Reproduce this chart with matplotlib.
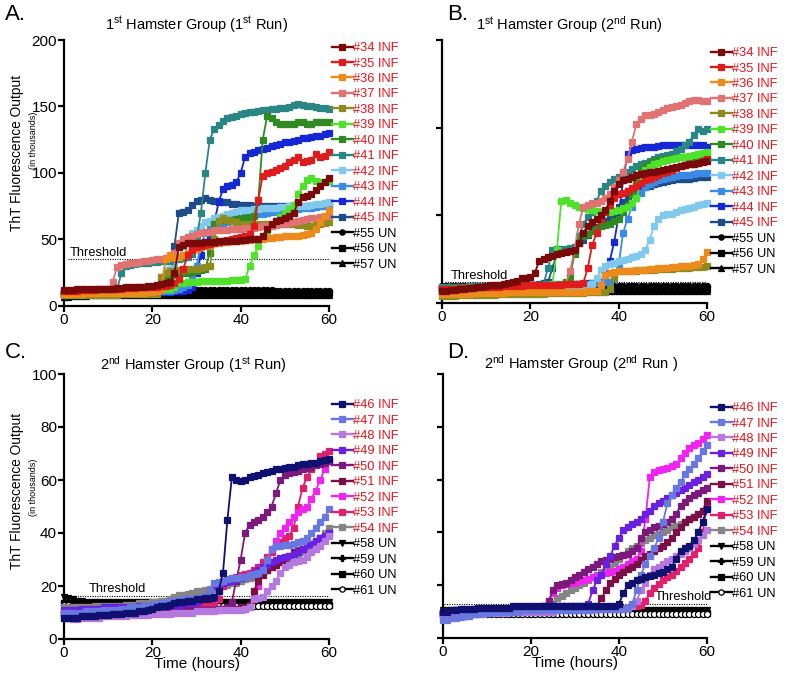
import numpy as np
import matplotlib
matplotlib.use('Agg')
import matplotlib.pyplot as plt
from matplotlib.lines import Line2D

plt.rcParams['font.family'] = ['Liberation Sans', 'DejaVu Sans']
plt.rcParams['mathtext.fontset'] = 'custom'
plt.rcParams['mathtext.rm'] = 'Liberation Sans'
plt.rcParams['mathtext.it'] = 'Liberation Sans:italic'
plt.rcParams['mathtext.bf'] = 'Liberation Sans:bold'

hours = np.arange(0, 61)

# ---------------- Panel A : 1st group, 1st run ----------------
A34 = [12, 12, 12, 12.5, 12.5, 12.5, 12.5, 13, 13, 13,
       13, 13, 13.5, 13.5, 14, 14, 14, 14.5, 14.5, 15,
       15, 16, 16.5, 17, 18, 25, 44, 46, 47, 47,
       47.5, 47.5, 48, 48, 48, 48.5, 48.5, 49, 49, 49,
       49.5, 49.5, 50, 50, 50, 53, 58, 62, 64, 65,
       66, 68, 70, 78, 82, 83, 84, 87, 90, 93, 96]
A35 = [11, 11, 11.5, 11.5, 12, 12, 12, 12, 12.5, 12.5,
       12.5, 13, 13, 13, 13.5, 13.5, 13.5, 14, 14, 14,
       14.5, 14.5, 15, 15, 15.5, 17, 20, 28, 38, 42,
       44, 45, 46, 46.5, 47, 48, 49, 49.5, 50, 51,
       52, 53, 54, 60, 80, 98, 100, 101, 102, 104,
       105, 108, 110, 112, 108, 109, 110, 114, 112, 113, 116]
A36 = [9, 9, 9, 9, 9, 9.5, 9.5, 9.5, 9.5, 9.5,
       9.5, 9.5, 10, 10, 10, 10, 10, 10, 10, 10.5,
       10.5, 11, 12, 35, 38, 36, 37, 38, 40, 42,
       43, 44, 45, 46, 47, 47.5, 48, 48, 48.5, 49,
       49, 49.5, 49.5, 50, 50, 50.5, 51, 51.5, 52, 52,
       52.5, 52.5, 53, 53, 53.5, 54, 55, 58, 63, 68, 72]
A37 = [10, 10, 10.5, 10.5, 11, 11, 11, 11.5, 11.5, 12,
       12, 18, 29, 31, 31.5, 32, 32.5, 33, 33.5, 34,
       34.5, 35, 35.5, 36, 37, 40, 47, 50, 52, 53,
       54, 55, 55.5, 56, 57, 57, 57.5, 57.5, 58, 58,
       58, 58.5, 59, 59, 59.5, 60, 60, 60.5, 61, 61.5,
       62, 62.5, 63, 64, 65, 65.5, 66, 66.5, 67, 67.5, 68]
A38 = [8, 8, 8, 8, 8, 8, 8.5, 8.5, 8.5, 8.5,
       8.5, 8.5, 8.5, 9, 9, 9, 9, 9, 9, 9,
       9, 9, 22, 25, 26, 26, 27, 27, 28, 28,
       28, 28.5, 29, 30, 50, 64, 66, 65, 64, 63,
       62, 62, 62, 62, 62, 61.5, 61.5, 61, 61, 61.5,
       62, 62, 62, 61, 61, 60.5, 60, 61, 62, 62.5, 63]
A39 = [10, 10, 10, 10, 10.5, 10.5, 10.5, 10.5, 11, 11,
       11, 11, 11, 11, 11.5, 11.5, 11.5, 11.5, 12, 12,
       12, 12, 12.5, 12.5, 13, 14, 17, 17.5, 18, 18,
       18, 18.5, 18.5, 18.5, 19, 19, 19, 19, 19.5, 19.5,
       19.5, 20, 30, 38, 45, 50, 56, 60, 64, 67,
       70, 73, 76, 84, 90, 95, 96, 94, 93, 93, 94]
A40 = [9, 9, 9, 9, 9, 9.5, 9.5, 9.5, 9.5, 9.5,
       10, 10, 10, 10, 10, 10.5, 10.5, 10.5, 10.5, 11,
       11, 11, 14, 20, 22, 23, 24, 24.5, 25, 25.5,
       26, 27, 28, 40, 62, 64, 65, 65, 65, 65.5,
       66, 66.5, 67, 68, 80, 125, 143, 141, 138, 137,
       137, 137, 137, 138, 138, 137, 137, 138, 138, 138, 138]
A41 = [10, 10, 10, 10.5, 10.5, 10.5, 11, 11, 11, 11,
       11.5, 11.5, 12, 25, 30, 31, 31.5, 32, 32, 32.5,
       33, 33, 33.5, 34, 34, 35, 35, 36, 37, 39,
       50, 70, 100, 125, 133, 136, 139, 141, 142, 143,
       144, 145, 145.5, 146, 146.5, 147, 147.5, 148, 148, 148.5,
       149, 149.5, 151, 152, 151, 150, 150, 149.5, 149, 149, 148]
A42 = [10, 10, 10, 10, 10, 10, 10, 10.5, 10.5, 10.5,
       10.5, 10.5, 10.5, 10.5, 11, 11, 11, 11, 11, 11,
       11, 11, 22, 27, 28, 29, 35, 45, 52, 55,
       57, 60, 63, 64, 66, 67, 68, 69, 70, 71,
       72, 72, 72.5, 73, 73, 73.5, 73.5, 74, 74, 74.5,
       74.5, 75, 75, 75, 75.5, 75.5, 76, 76.5, 77, 77.5, 78]
A43 = [9, 9, 9, 9, 9, 9, 9.5, 9.5, 9.5, 9.5,
       9.5, 9.5, 10, 10, 10, 10, 10, 10, 10.5, 10.5,
       10.5, 10.5, 11, 11, 11.5, 12, 13, 14, 16, 20,
       30, 45, 55, 58, 60, 61, 62, 63, 64, 65,
       66, 67, 68, 68.5, 69, 69.5, 70, 70.5, 71, 71.5,
       72, 72.5, 73, 73, 73.5, 74, 74, 74.5, 75, 75, 75.5]
A44 = [9, 9, 9, 9, 9, 9, 9, 9, 9.5, 9.5,
       9.5, 9.5, 9.5, 9.5, 9.5, 10, 10, 10, 10, 10,
       10, 10, 10.5, 10.5, 10.5, 11, 11, 11.5, 12, 14,
       25, 38, 48, 52, 62, 78, 88, 90, 91, 93,
       100, 112, 115, 116, 117, 118, 119, 120, 121, 122,
       123, 123.5, 124, 125, 126, 126.5, 127, 127.5, 128, 129, 130]
A45 = [10, 10, 10, 10, 10, 10, 10, 10, 10, 10,
       10, 10, 10.5, 10.5, 10.5, 10.5, 11, 11, 11, 11,
       11, 11.5, 12, 13, 14, 45, 70, 71, 72, 76,
       79, 80, 81, 80, 79, 79, 78, 78, 77, 77,
       76, 76, 76, 75.5, 75, 75, 75, 75, 75, 75,
       75, 75, 75, 75, 75, 75, 75, 75.5, 75.5, 76, 76]
A55 = [10, 10.5, 10.5, 11, 11, 11, 11, 11.5, 11.5, 11.5,
       11.5, 11.5, 11.5, 12, 12, 12, 12, 12, 12, 12,
       12, 12, 12, 12, 12, 12, 12, 12, 12, 12,
       12, 12, 12, 12, 12, 12, 12, 12, 12, 12,
       12, 12, 12, 12, 12, 12, 12, 12, 11.5, 11.5,
       11.5, 11.5, 11.5, 11.5, 11.5, 11.5, 11.5, 11.5, 11.5, 11.5, 11.5]
A56 = [8.5, 8.5, 9, 9, 9, 9.5, 9.5, 9.5, 9.5, 9.5,
       10, 10, 10, 10, 10, 10, 10, 10, 10, 10,
       10, 10, 10, 10, 10, 10, 10, 10, 10, 10,
       10, 10, 10, 10, 10, 10, 10, 10, 10, 10,
       10, 10, 10, 10, 10, 10, 10, 10, 10, 10,
       9.5, 9.5, 9.5, 9.5, 9.5, 9.5, 9.5, 9.5, 9.5, 9.5, 9.5]
A57 = [7, 7, 7.5, 7.5, 7.5, 7.5, 8, 8, 8, 8,
       8, 8, 8, 8, 8.5, 8.5, 8.5, 8.5, 8.5, 8.5,
       8.5, 8.5, 8.5, 8.5, 8.5, 8.5, 8.5, 8.5, 8.5, 8.5,
       8.5, 8.5, 8.5, 8.5, 8.5, 8.5, 8.5, 8.5, 8.5, 8.5,
       8.5, 8.5, 8.5, 8.5, 8.5, 8.5, 8.5, 8.5, 8, 8,
       8, 8, 8, 8, 8, 8, 8, 8, 8, 8, 8]

# ---------------- Panel B : 1st group, 2nd run ----------------
B34 = [7, 7, 7.5, 7.5, 8, 8, 8.5, 8.5, 9, 9,
       9.5, 10, 10, 10.5, 11, 11.5, 12, 12.5, 14, 14.5,
       15, 17, 24, 25, 26, 27, 28, 28.5, 29, 29.5,
       30, 34, 40, 44, 46, 48, 50, 53, 58, 64,
       68, 70, 71, 72, 73, 73.5, 74, 74.5, 75, 75.5,
       76, 76.5, 77, 77.5, 78, 78.5, 79, 79.5, 80, 80.5, 81]
B35 = [8, 8, 8, 8, 8.5, 8.5, 8.5, 8.5, 9, 9,
       9, 9, 9, 9, 9.5, 9.5, 9.5, 9.5, 9.5, 10,
       10, 10, 10, 10, 10.5, 10.5, 10.5, 10.5, 11, 11,
       11, 11, 11.5, 20, 33, 40, 48, 52, 56, 60,
       62, 63, 64, 65.5, 67, 68.5, 70, 71, 72, 73,
       74, 75, 76, 77, 78, 78.5, 79, 79.5, 80, 81, 82]
B36 = [5, 5, 5, 5, 5, 5, 5, 5.5, 5.5, 5.5,
       5.5, 5.5, 5.5, 5.5, 5.5, 6, 6, 6, 6, 6,
       6, 6, 6, 6, 6, 6.5, 6.5, 6.5, 6.5, 6.5,
       6.5, 6.5, 6.5, 7, 7, 7, 10, 16, 17, 17.5,
       18, 18, 18.5, 18.5, 19, 19, 19, 19.5, 19.5, 20,
       20, 20, 20.5, 20.5, 21, 21, 21, 21.5, 22, 25, 29]
B37 = [8, 8, 8, 8, 8, 8.5, 8.5, 8.5, 8.5, 8.5,
       8.5, 8.5, 9, 9, 9, 9, 9, 9, 9, 9.5,
       9.5, 9.5, 9.5, 9.5, 10, 10, 10, 10.5, 11, 18,
       30, 45, 55, 56, 57, 57, 58, 60, 62, 66,
       70, 75, 82, 92, 102, 105, 107, 107.5, 108, 109,
       110, 111, 112, 112.5, 113, 114, 115, 115.5, 116, 115, 115]
B38 = [4, 4, 4, 4, 4.5, 4.5, 4.5, 4.5, 4.5, 4.5,
       4.5, 4.5, 4.5, 5, 5, 5, 5, 5, 5, 5,
       5, 5, 5, 5, 5.5, 5.5, 5.5, 5.5, 5.5, 5.5,
       5.5, 5.5, 5.5, 6, 6, 6, 6, 6, 8, 15,
       18, 18, 18.5, 18.5, 18.5, 19, 19, 19, 19, 19.5,
       19.5, 19.5, 19.5, 20, 20, 20, 20, 20.5, 20.5, 20.5, 21]
B39 = [8, 8, 8, 8, 8, 8.5, 8.5, 8.5, 8.5, 8.5,
       8.5, 8.5, 8.5, 8.5, 9, 9, 9, 9, 9, 9,
       9, 9, 9.5, 9.5, 10, 11, 30, 58, 59, 57,
       56, 55, 54, 53.5, 53, 52.5, 52, 52, 52, 52.5,
       53, 54, 55, 57, 60, 70, 76, 77.5, 79, 80,
       81, 81.5, 82, 82.5, 83, 83.5, 84, 84.5, 85, 85.5, 86]
B40 = [8, 8, 8, 8.5, 8.5, 8.5, 8.5, 8.5, 9, 9,
       9, 9, 9, 9, 9.5, 9.5, 9.5, 9.5, 9.5, 10,
       10, 10, 10, 10.5, 10.5, 10.5, 11, 11, 12, 15,
       28, 36, 38, 39.5, 41, 42.5, 44, 44.5, 45, 46.5,
       48, 52, 56, 62, 70, 76, 78, 79.5, 81, 81.5,
       82, 82, 82.5, 82.5, 83, 83, 83.5, 83.5, 84, 84.5, 85]
B41 = [9, 9, 9, 9, 9, 9, 9.5, 9.5, 9.5, 9.5,
       9.5, 9.5, 9.5, 9.5, 10, 10, 10, 10, 10, 10,
       10, 10.5, 10.5, 11, 20, 30, 31, 31, 31, 31.5,
       32, 38, 45, 49, 52, 58, 64, 67, 69, 70.5,
       72, 73.5, 75, 76.5, 78, 79, 80, 81, 82, 83,
       84, 84.5, 85, 86.5, 88, 90, 92, 96, 99, 98, 99]
B42 = [8, 8, 8, 8, 8, 8, 8, 8.5, 8.5, 8.5,
       8.5, 8.5, 8.5, 8.5, 8.5, 9, 9, 9, 9, 9,
       9, 9, 9, 9.5, 9.5, 9.5, 9.5, 9.5, 10, 10,
       10, 10, 10.5, 10.5, 11, 14, 19, 21, 22, 23,
       24, 24.5, 25, 26, 27, 28, 30, 36, 44, 48,
       50, 50.5, 51, 52, 53, 53.5, 54, 55, 56, 56.5, 57]
B43 = [8, 8, 8, 8.5, 8.5, 8.5, 8.5, 9, 9, 9,
       9, 9, 9, 9.5, 9.5, 9.5, 9.5, 9.5, 10, 10,
       10, 10, 10, 10, 10.5, 10.5, 10.5, 10.5, 10.5, 11,
       11, 11, 11, 11, 11.5, 11.5, 11.5, 12, 12, 14,
       22, 40, 48, 55, 60, 63, 66, 68, 69, 70,
       71, 71.5, 72, 72.5, 73, 73, 73, 73.5, 74, 74, 74]
B44 = [9, 9, 9, 9, 9, 9, 9, 9.5, 9.5, 9.5,
       9.5, 9.5, 9.5, 9.5, 9.5, 10, 10, 10, 10, 10,
       10, 10, 10, 10.5, 10.5, 10.5, 10.5, 10.5, 11, 11,
       11, 11, 11, 11.5, 11.5, 11.5, 12, 15, 24, 35,
       50, 70, 85, 87, 88, 88.5, 89, 89, 89, 89.5,
       90, 90, 90, 90, 90, 90, 90, 90, 90, 90, 89]
B45 = [8, 8, 8, 8.5, 8.5, 8.5, 8.5, 9, 9, 9,
       9, 9, 9, 9.5, 9.5, 9.5, 9.5, 9.5, 10, 10,
       10, 10.5, 11, 11.5, 12, 20, 28, 29, 30, 31,
       32, 34, 36, 39, 42, 43.5, 45, 46.5, 48, 51,
       55, 57.5, 60, 62, 64, 65, 66, 67, 68, 68.5,
       69, 69.5, 70, 70.5, 71, 71, 71, 71.5, 72, 72, 72]
B55 = [9.5, 9.5, 9.5, 9.5, 9.5, 9.5, 9.5, 9.5, 9.5, 9.5,
       9.5, 9.5, 9.5, 9.5, 9.5, 9.5, 9.5, 9.5, 9.5, 9.5,
       9.5, 9.5, 9.5, 9.5, 9.5, 9.5, 9.5, 9.5, 9.5, 9.5,
       9.5, 9.5, 9.5, 9.5, 9.5, 9.5, 9.5, 9.5, 9.5, 9.5,
       9.5, 9.5, 9.5, 9.5, 9.5, 9.5, 9.5, 9.5, 9.5, 9.5,
       9.5, 9.5, 9.5, 9.5, 9.5, 9.5, 9.5, 9.5, 9.5, 9.5, 9.5]
B56 = [8, 8, 8, 8, 8, 8, 8, 8, 8, 8,
       8, 8, 8, 8, 8, 8, 8, 8, 8, 8,
       8, 8, 8, 8, 8, 8, 8, 8, 8, 8,
       8, 8, 8, 8, 8, 8, 8, 8, 8, 8,
       8, 8, 8, 8, 8, 8, 8, 8, 8, 8,
       8, 8, 8, 8, 8, 8, 8, 8, 8, 8, 8]
B57 = [7, 7, 7, 7, 7, 7, 7, 7, 7, 7,
       7, 7, 7, 7, 7, 7, 7, 7, 7, 7,
       7, 7, 7, 7, 7, 7, 7, 7, 7, 7,
       7, 7, 7, 7, 7, 7, 7, 7, 7, 7,
       7, 7, 7, 7, 7, 7, 7, 7, 7, 7,
       7, 7, 7, 7, 7, 7, 7, 7, 7, 7, 7]

# ---------------- Panel C : 2nd group, 1st run ----------------
C46 = [8, 8, 8, 8, 8.5, 8.5, 8.5, 8.5, 9, 9,
       9, 9.5, 9.5, 9.5, 10, 10, 10, 10.5, 10.5, 11,
       11.5, 12, 12.5, 12.5, 13, 13.5, 14, 14, 14.5, 14.5,
       15, 15, 15.5, 15.5, 16, 18, 25, 45, 61, 60,
       59.5, 60, 61, 61.5, 62, 62.5, 63, 63.5, 64, 64,
       64.5, 65, 65, 65.5, 66, 66, 66.5, 66.5, 67, 67.5, 68]
C47 = [10, 10, 10, 10, 10, 10.5, 10.5, 10.5, 10.5, 11,
       11, 11, 11, 11.5, 11.5, 12, 12, 12, 12.5, 12.5,
       13, 13, 13.5, 13.5, 14, 14.5, 14.5, 15, 15, 15,
       15.5, 15.5, 16, 18, 21, 21.5, 22, 22.5, 23, 23,
       23.5, 23.5, 24, 24.5, 25, 26, 30, 34, 35, 35,
       35.5, 35.5, 36, 36.5, 37, 38, 40, 42, 44, 46, 49]
C48 = [8, 8, 7.5, 7.5, 8, 8, 8, 8, 8, 8.5,
       8.5, 8.5, 8.5, 8.5, 8.5, 9, 9, 9, 9, 9,
       9.5, 9.5, 9.5, 9.5, 9.5, 10, 10, 10, 10, 10,
       10.5, 10.5, 10.5, 10.5, 10.5, 11, 11, 11, 11, 11,
       11, 11.5, 12, 15, 15.5, 16, 18, 20, 22, 25,
       27, 28, 29, 29.5, 30, 31, 33, 34, 35, 37, 39]
C49 = [11, 11, 11, 11, 11.5, 11.5, 11.5, 11.5, 11.5, 12,
       12, 12, 12, 12, 12, 12, 12, 12.5, 12.5, 12.5,
       12.5, 12.5, 12.5, 13, 13, 13, 13, 13.5, 13.5, 13.5,
       14, 15, 16, 18, 20, 20.5, 21, 21.5, 22, 22.5,
       23, 23.5, 24, 25, 26, 27, 28, 29, 30, 30.5,
       31, 31.5, 32, 33, 34, 35, 36, 37, 38, 39, 40]
C50 = [10, 10, 10, 10, 10, 10, 10, 10, 10, 10,
       10, 10, 10, 10, 10, 10, 10, 10.5, 10.5, 10.5,
       10.5, 10.5, 10.5, 10.5, 10.5, 11, 11, 11, 11, 11,
       11, 11, 11, 11, 11, 11.5, 11.5, 12, 14, 22,
       30, 40, 43, 44, 45, 46, 48, 50, 55, 60,
       62, 62.5, 63, 63.5, 64, 64.5, 65, 65.5, 66, 66.5, 67]
C51 = [9, 9, 9, 9, 9, 9.5, 9.5, 9.5, 9.5, 9.5,
       9.5, 9.5, 9.5, 9.5, 9.5, 10, 10, 10, 10, 10,
       10, 10, 10, 10, 10.5, 10.5, 10.5, 10.5, 10.5, 10.5,
       11, 11, 11, 11, 11, 11.5, 11.5, 11.5, 11.5, 11.5,
       12, 12, 13, 18, 22, 24, 26, 27, 28, 29,
       30, 31.5, 33, 33.5, 34, 35, 36, 37, 38, 39, 40]
C52 = [10, 10, 10, 10, 10, 10, 10, 10, 10, 10,
       10, 10, 10, 10, 10, 10.5, 10.5, 10.5, 10.5, 10.5,
       10.5, 10.5, 10.5, 10.5, 10.5, 11, 11, 11, 11, 11,
       11, 11, 11, 11, 11, 11, 11.5, 11.5, 11.5, 11.5,
       11.5, 11.5, 12, 15, 20, 27, 30, 34, 37, 40,
       42, 44, 46, 48, 49, 50, 53, 56, 60, 64, 67]
C53 = [10, 10, 10, 10, 10, 10, 10, 10, 10.5, 10.5,
       10.5, 10.5, 10.5, 10.5, 10.5, 11, 11, 11, 11, 11,
       11, 11, 11, 11.5, 11.5, 11.5, 11.5, 11.5, 12, 12,
       12, 12, 12.5, 12.5, 13, 15, 20, 22, 23, 23.5,
       24, 24.5, 25, 26, 27, 29, 31, 33, 35, 36.5,
       38, 39, 42, 50, 57, 61, 64, 66, 69, 70, 71]
C54 = [12, 12, 12, 12, 12, 12, 12, 12.5, 12.5, 12.5,
       12.5, 12.5, 12.5, 12.5, 13, 13, 13, 13.5, 13.5, 13.5,
       14, 14, 14.5, 14.5, 15, 16, 16.5, 16.5, 17, 17.5,
       18, 18, 18.5, 19, 19, 19.5, 20, 20.5, 21, 21,
       22, 22.5, 23, 23.5, 24, 25, 26, 27, 28, 29,
       30, 30.5, 31, 32, 33, 34, 35, 36.5, 38, 40, 42]
C58 = [16, 15.5, 15, 14.5, 14.5, 14, 14, 14, 14, 14,
       14, 14, 14, 14, 14, 14, 14, 14, 14, 14,
       14, 14, 14, 14, 14, 14, 14, 14, 14, 14,
       14, 14, 14, 14, 14, 14, 14, 14, 14, 14,
       14, 14, 14, 14, 14, 14, 14, 14, 14, 14,
       14, 14, 14, 14, 14, 14, 14, 14, 14, 14, 14]
C59 = [14.5, 14.5, 14, 14, 14, 13.5, 13.5, 13.5, 13.5, 13.5,
       13.5, 13.5, 13.5, 13.5, 13.5, 13.5, 13.5, 13.5, 13.5, 13.5,
       13.5, 13.5, 13.5, 13.5, 13.5, 13.5, 13.5, 13.5, 13.5, 13.5,
       13.5, 13.5, 13.5, 13.5, 13.5, 13.5, 13.5, 13.5, 13.5, 13.5,
       13.5, 13.5, 13.5, 13.5, 13.5, 13.5, 13.5, 13.5, 13.5, 13.5,
       13.5, 13.5, 13.5, 13.5, 13.5, 13.5, 13.5, 13.5, 13.5, 13.5, 13.5]
C60 = [13.5, 13.5, 13, 13, 13, 13, 13, 13, 13, 13,
       13, 13, 13, 13, 13, 13, 13, 13, 13, 13,
       13, 13, 13, 13, 13, 13, 13, 13, 13, 13,
       13, 13, 13, 13, 13, 13, 13, 13, 13, 13,
       13, 13, 13, 13, 13, 13, 13, 13, 13, 13,
       13, 13, 13, 13, 13, 13, 13, 13, 13, 13, 13]
C61 = [13, 13, 12.5, 12.5, 12.5, 12.5, 12.5, 12.5, 12.5, 12.5,
       12.5, 12.5, 12.5, 12.5, 12.5, 12.5, 12.5, 12.5, 12.5, 12.5,
       12.5, 12.5, 12.5, 12.5, 12.5, 12.5, 12.5, 12.5, 12.5, 12.5,
       12.5, 12.5, 12.5, 12.5, 12.5, 12.5, 12.5, 12.5, 12.5, 12.5,
       12.5, 12.5, 12.5, 12.5, 12.5, 12.5, 12.5, 12.5, 12.5, 12.5,
       12.5, 12.5, 12.5, 12.5, 12.5, 12.5, 12.5, 12.5, 12.5, 12.5, 12.5]

# ---------------- Panel D : 2nd group, 2nd run ----------------
D46 = [10, 10, 10.5, 10.5, 11, 11, 11, 11, 11.5, 11.5,
       11.5, 11.5, 11.5, 11.5, 11.5, 11.5, 12, 12, 12, 12,
       12, 12, 12, 12, 12, 12, 12, 12, 12, 12,
       12, 12, 12, 12, 12, 12, 12, 12, 12, 12,
       13, 17, 20, 21, 22, 22.5, 23, 23.5, 24, 24.5,
       25, 26, 27, 30, 33, 34, 35, 37, 40, 44, 49]
D47 = [7, 7, 7.5, 7.5, 8, 8.5, 8.5, 9, 9, 9.5,
       9.5, 9.5, 10, 10, 10, 10, 10, 10, 10.5, 10.5,
       10.5, 10.5, 10.5, 10.5, 10.5, 10.5, 10.5, 10.5, 10.5, 10.5,
       10.5, 10.5, 10.5, 10.5, 11, 11, 11, 11, 11, 11,
       11, 11, 11.5, 13, 18, 24, 28, 31, 34, 38,
       44, 51, 54, 57, 59, 62, 64, 66, 68, 71, 73]
D48 = [8, 8, 8, 8, 8.5, 8.5, 8.5, 9, 9, 9,
       9.5, 9.5, 9.5, 9.5, 9.5, 10, 10, 10, 10, 10,
       10, 10, 10, 10, 10, 10, 10.5, 10.5, 10.5, 10.5,
       10.5, 10.5, 10.5, 10.5, 10.5, 11, 11, 11, 11, 11,
       11, 11, 11.5, 12, 14, 18, 21, 24, 26, 27,
       28, 29, 30, 31, 32, 33, 34, 35.5, 37, 39, 41]
D49 = [9, 9, 9.5, 9.5, 10, 10, 10, 10.5, 10.5, 10.5,
       11, 11, 11, 11, 11, 11, 11, 11.5, 11.5, 11.5,
       11.5, 11.5, 11.5, 11.5, 11.5, 12, 12, 12, 12, 12,
       12, 12, 12, 13, 18, 22, 24, 28, 31, 35,
       38, 41, 42, 43, 44, 45, 47, 48, 50, 51,
       52, 53, 54, 55, 56, 57, 58, 59, 60, 61, 62]
D50 = [10, 10, 10, 10.5, 10.5, 10.5, 10.5, 11, 11, 11,
       11, 11, 11, 11, 11, 11, 11.5, 11.5, 11.5, 11.5,
       11.5, 11.5, 11.5, 12, 14, 18, 20, 20.5, 21, 22,
       23, 24, 25, 26, 27, 28, 29, 29.5, 30, 30.5,
       31, 31.5, 32, 33, 34, 38, 40, 41, 42, 42.5,
       43, 44, 45, 47, 50, 51.5, 53, 54, 55, 56, 57]
D51 = [9, 9, 9, 9.5, 9.5, 9.5, 10, 10, 10, 10,
       10, 10, 10, 10, 10.5, 10.5, 10.5, 10.5, 10.5, 10.5,
       10.5, 10.5, 10.5, 10.5, 10.5, 11, 11, 11, 11, 11,
       11, 11, 11, 11.5, 11.5, 12, 15, 18, 21, 22.5,
       24, 25, 26, 27, 28, 29.5, 31, 32, 33, 34,
       35, 36.5, 38, 40, 42, 44, 45, 46, 47, 48, 52]
D52 = [9, 9, 9.5, 9.5, 10, 10, 10, 10, 10.5, 10.5,
       10.5, 10.5, 10.5, 11, 11, 11, 11, 11, 11, 11,
       11, 11, 11.5, 12, 14, 17, 19, 20, 20.5, 21,
       21, 21.5, 22, 22.5, 23, 23.5, 24, 24.5, 25, 25.5,
       26, 27, 28, 29, 30, 33, 45, 61, 63, 63.5,
       64, 64.5, 65, 66, 68, 70, 72, 73, 74, 75.5, 77]
D53 = [9, 9, 9, 9.5, 9.5, 9.5, 10, 10, 10, 10,
       10, 10, 10, 10, 10, 10.5, 10.5, 10.5, 10.5, 10.5,
       10.5, 10.5, 10.5, 10.5, 10.5, 10.5, 11, 11, 11, 11,
       11, 11, 11, 11, 11, 11, 11, 11.5, 11.5, 11.5,
       11.5, 11.5, 11.5, 12, 12, 12.5, 14, 17, 19, 20.5,
       22, 23, 24, 25.5, 27, 28.5, 30, 32, 34, 40, 50]
D54 = [10, 10, 10, 10.5, 10.5, 10.5, 10.5, 10.5, 11, 11,
       11, 11, 11, 11, 11, 11, 11, 11, 11.5, 11.5,
       11.5, 11.5, 11.5, 11.5, 12, 13, 15, 16, 17, 18,
       19, 20, 21, 22, 23, 24, 25, 26, 27, 28.5,
       30, 31.5, 33, 34, 35, 36, 37, 38, 39, 39.5,
       40, 41, 42, 42.5, 43, 44, 45, 46, 47, 48, 49]
D58 = [10.5, 10.5, 10.5, 10.5, 10.5, 10.5, 10.5, 10.5, 10.5, 10.5,
       10.5, 10.5, 10.5, 10.5, 10.5, 10.5, 10.5, 10.5, 10.5, 10.5,
       10.5, 10.5, 10.5, 10.5, 10.5, 10.5, 10.5, 10.5, 10.5, 10.5,
       10.5, 10.5, 10.5, 10.5, 10.5, 10.5, 10.5, 10.5, 10.5, 10.5,
       10.5, 10.5, 10.5, 10.5, 10.5, 10.5, 10.5, 10.5, 10.5, 10.5,
       10.5, 10.5, 10.5, 10.5, 10.5, 10.5, 10.5, 10.5, 10.5, 10.5, 10.5]
D59 = [10, 10, 10, 10, 10, 10, 10, 10, 10, 10,
       10, 10, 10, 10, 10, 10, 10, 10, 10, 10,
       10, 10, 10, 10, 10, 10, 10, 10, 10, 10,
       10, 10, 10, 10, 10, 10, 10, 10, 10, 10,
       10, 10, 10, 10, 10, 10, 10, 10, 10, 10,
       10, 10, 10, 10, 10, 10, 10, 10, 10, 10, 10]
D60 = [9.5, 9.5, 9.5, 9.5, 9.5, 9.5, 9.5, 9.5, 9.5, 9.5,
       9.5, 9.5, 9.5, 9.5, 9.5, 9.5, 9.5, 9.5, 9.5, 9.5,
       9.5, 9.5, 9.5, 9.5, 9.5, 9.5, 9.5, 9.5, 9.5, 9.5,
       9.5, 9.5, 9.5, 9.5, 9.5, 9.5, 9.5, 9.5, 9.5, 9.5,
       9.5, 9.5, 9.5, 9.5, 9.5, 9.5, 9.5, 9.5, 9.5, 9.5,
       9.5, 9.5, 9.5, 9.5, 9.5, 9.5, 9.5, 9.5, 9.5, 9.5, 9.5]
D61 = [9, 9, 9, 9, 9, 9, 9, 9, 9, 9,
       9, 9, 9, 9, 9, 9, 9, 9, 9, 9,
       9, 9, 9, 9, 9, 9, 9, 9, 9, 9,
       9, 9, 9, 9, 9, 9, 9, 9, 9, 9,
       9, 9, 9, 9, 9, 9, 9, 9, 9, 9,
       9, 9, 9, 9, 9, 9, 9, 9, 9, 9, 9]

# series labels
labels_1 = ["#34 INF", "#35 INF", "#36 INF", "#37 INF", "#38 INF", "#39 INF",
            "#40 INF", "#41 INF", "#42 INF", "#43 INF", "#44 INF", "#45 INF",
            "#55 UN", "#56 UN", "#57 UN"]
labels_2 = ["#46 INF", "#47 INF", "#48 INF", "#49 INF", "#50 INF", "#51 INF",
            "#52 INF", "#53 INF", "#54 INF", "#58 UN", "#59 UN", "#60 UN", "#61 UN"]

colors_1 = ['#7a0a0a', '#e01b1b', '#ec8a1c', '#e07272', '#8c8c1e', '#4ee22a',
            '#2f8a22', '#2a8585', '#80c8ec', '#3a8ae6', '#1428d6', '#1e4c88',
            'black', 'black', 'black']
colors_2 = ['#101070', '#6878e0', '#b478e0', '#6a20e0', '#7c1a7c', '#7a0e46',
            '#f024f0', '#e0206e', '#858585', 'black', 'black', 'black', 'black']
markers_1 = ['s'] * 12 + ['o', 's', '^']
markers_2 = ['s'] * 9 + ['v', 'P', 's', 'o']

data_A = [A34, A35, A36, A37, A38, A39, A40, A41, A42, A43, A44, A45, A55, A56, A57]
data_B = [B34, B35, B36, B37, B38, B39, B40, B41, B42, B43, B44, B45, B55, B56, B57]
data_C = [C46, C47, C48, C49, C50, C51, C52, C53, C54, C58, C59, C60, C61]
data_D = [D46, D47, D48, D49, D50, D51, D52, D53, D54, D58, D59, D60, D61]

thresholds = {'A': 35, 'B': 11.8, 'C': 16.2, 'D': 12.9}

W, H = 786, 681
fig = plt.figure(figsize=(W / 100, H / 100), dpi=100)


def fx(px):
    return px / W


def fy(py):
    return 1 - py / H


def make_ax(left, top, right, bottom):
    return fig.add_axes([fx(left), fy(bottom), fx(right) - fx(left), fy(top) - fy(bottom)])


def style_ax(ax, ymax, ystep, show_ylabels):
    ax.set_xlim(0, 60)
    ax.set_ylim(0, ymax)
    ax.set_xticks([0, 20, 40, 60])
    ax.set_yticks(np.arange(0, ymax + 0.1, ystep))
    for s in ['top', 'right']:
        ax.spines[s].set_visible(False)
    for s in ['left', 'bottom']:
        ax.spines[s].set_linewidth(1.6)
    ax.tick_params(direction='out', length=4, width=1.6, labelsize=11, pad=1)
    if not show_ylabels:
        ax.set_yticklabels([])
    ax.patch.set_alpha(0)


def draw_series(ax, data, labels, colors, markers):
    n = len(data)
    handles = []
    # uninfected first (underneath), then infected in reverse so first is on top
    order = [i for i in range(n) if 'UN' in labels[i]] + \
            [i for i in reversed(range(n)) if 'INF' in labels[i]]
    for i in order:
        un = 'UN' in labels[i]
        mfc = 'white' if labels[i] == '#61 UN' else colors[i]
        ax.plot(hours, data[i], color=colors[i], lw=1.6 if un else 1.3,
                marker=markers[i], ms=4.4 if un else 4.2, mfc=mfc, mec=colors[i],
                mew=0.9, clip_on=False, zorder=3)
    for i in range(n):
        mfc = 'white' if labels[i] == '#61 UN' else colors[i]
        ms = 4.4 if markers[i] == 's' and 'INF' in labels[i] else 3.8
        handles.append(Line2D([], [], color=colors[i], lw=1.7, marker=markers[i],
                              ms=ms, mfc=mfc, mec=colors[i], mew=0.9))
    return handles


def add_legend(ax, handles, labels, left_px, top_px):
    leg = fig.legend(handles, labels, loc='upper left',
                     bbox_to_anchor=(fx(left_px), fy(top_px)),
                     frameon=False, fontsize=9.3, handlelength=1.6,
                     handletextpad=0.05, labelspacing=0.265, borderpad=0,
                     borderaxespad=0, numpoints=1)
    for t, lab in zip(leg.get_texts(), labels):
        t.set_color('#e8141c' if 'INF' in lab else 'black')


def threshold(ax, key, x0, tx, ty):
    ax.axhline(thresholds[key], xmin=x0 / 60, xmax=1, color='black', lw=0.8,
               ls=(0, (1, 1.2)), zorder=2)
    ax.text(tx, ty, 'Threshold', fontsize=9.3, ha='left', va='bottom', zorder=2)


# Panel A
axA = make_ax(64, 40, 329, 306)
style_ax(axA, 200, 50, True)
hA = draw_series(axA, data_A, labels_1, colors_1, markers_1)
threshold(axA, 'A', 1, 1.3, 35.5)
add_legend(axA, hA, labels_1, 332, 42)

# Panel B
axB = make_ax(442, 40, 707, 303)
style_ax(axB, 150, 50, False)
hB = draw_series(axB, data_B, labels_1, colors_1, markers_1)
threshold(axB, 'B', 0.6, 2.0, 12.2)
add_legend(axB, hB, labels_1, 711, 47)

# Panel C
axC = make_ax(64, 374, 329, 639)
style_ax(axC, 100, 20, True)
hC = draw_series(axC, data_C, labels_2, colors_2, markers_2)
threshold(axC, 'C', 0.2, 5.5, 16.6)
axC.set_xlabel('Time (hours)', fontsize=11, labelpad=-2)
add_legend(axC, hC, labels_2, 332, 399)

# Panel D
axD = make_ax(443, 374, 707, 638)
style_ax(axD, 100, 20, False)
hD = draw_series(axD, data_D, labels_2, colors_2, markers_2)
threshold(axD, 'D', 0.3, 48.0, 13.1)
axD.set_xlabel('Time (hours)', fontsize=11, labelpad=-2)
add_legend(axD, hD, labels_2, 711, 402)

# Titles
fig.text(fx(197), fy(25), r'1$^{\rm st}$ Hamster Group (1$^{\rm st}$ Run)', ha='center', va='center', fontsize=10.5)
fig.text(fx(569), fy(25), r'1$^{\rm st}$ Hamster Group (2$^{\rm nd}$ Run)', ha='center', va='center', fontsize=10.5)
fig.text(fx(193), fy(365), r'2$^{\rm nd}$ Hamster Group (1$^{\rm st}$ Run)', ha='center', va='center', fontsize=10.5)
fig.text(fx(581), fy(364), r'2$^{\rm nd}$ Hamster Group (2$^{\rm nd}$ Run )', ha='center', va='center', fontsize=10.5)

# Panel letters
for lab, x, y in [('A.', 5, 15), ('B.', 447, 15), ('C.', 5, 353), ('D.', 447, 352)]:
    fig.text(fx(x), fy(y), lab, ha='left', va='center', fontsize=16)

# Y labels
for ymain, ysub in [(153, 140), (491, 487)]:
    fig.text(fx(17), fy(ymain), 'ThT Fluorescence Output', rotation=90,
             ha='center', va='center', fontsize=9.9)
    fig.text(fx(33), fy(ysub), '(in thousands)', rotation=90,
             ha='center', va='center', fontsize=6.5)

fig.savefig('out.png', dpi=100)
